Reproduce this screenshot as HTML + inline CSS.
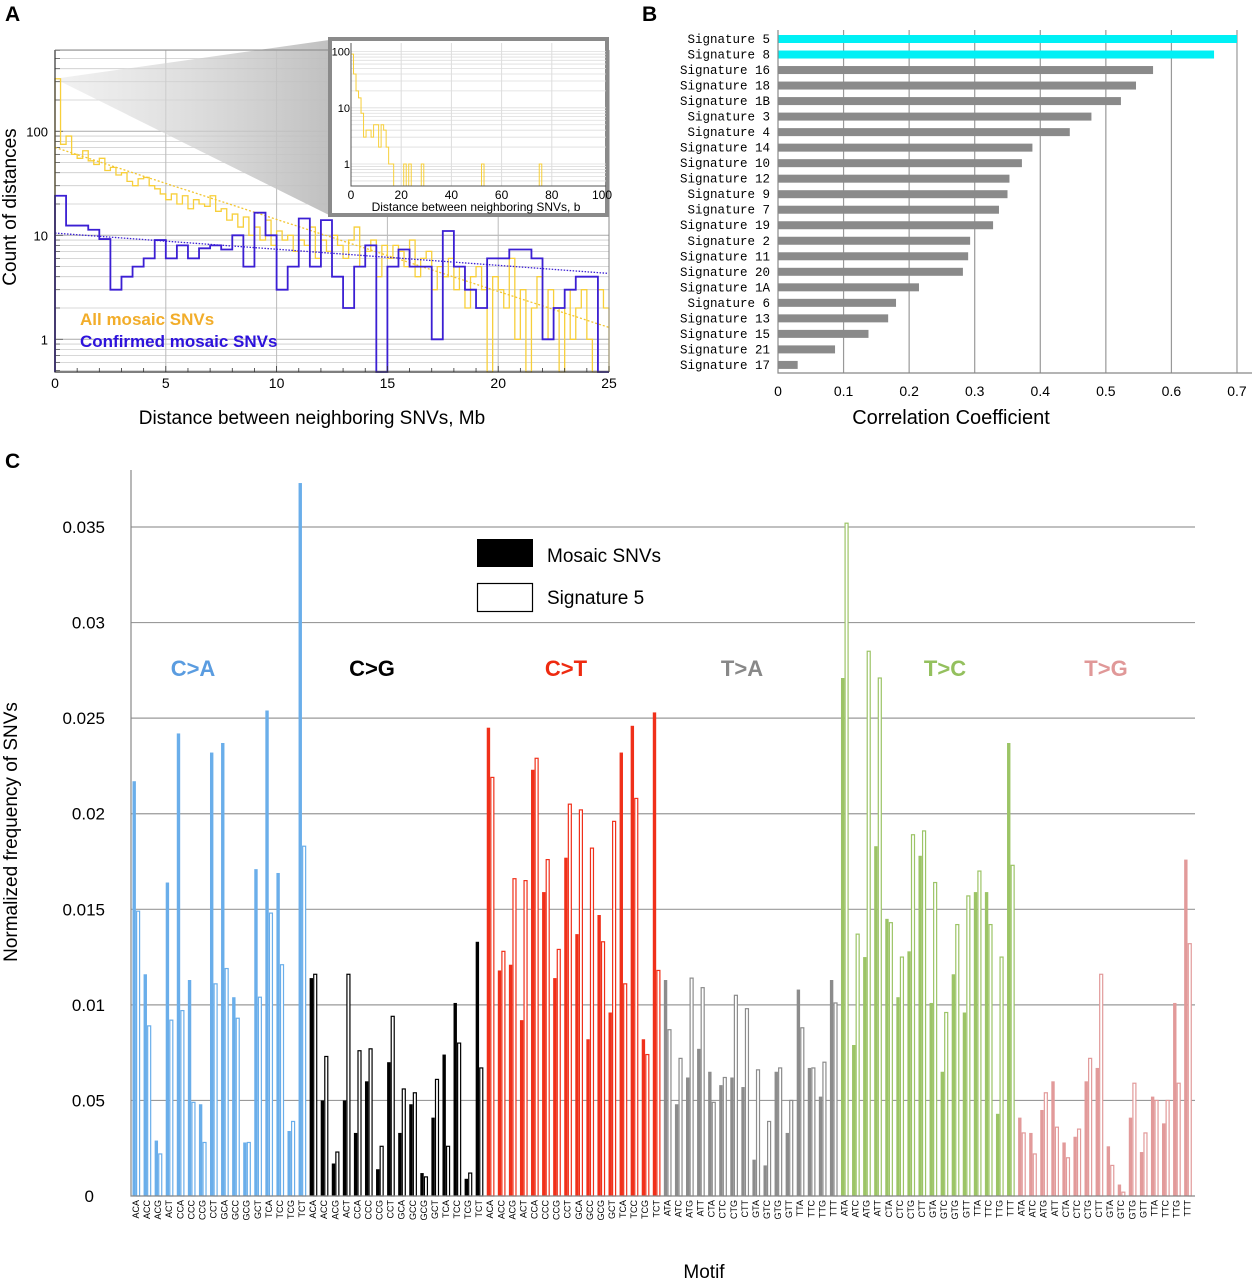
<!DOCTYPE html>
<html><head><meta charset="utf-8"><style>
html,body{margin:0;padding:0;background:#fff;}
svg{display:block;font-family:"Liberation Sans",sans-serif;}
</style></head><body>
<svg id="fig" width="1252" height="1280" viewBox="0 0 1252 1280" xmlns="http://www.w3.org/2000/svg">
<defs>
<linearGradient id="zoomGrad" x1="0" y1="0" x2="1" y2="0">
<stop offset="0" stop-color="#e4e4e4" stop-opacity="0.5"/>
<stop offset="1" stop-color="#bdbdbd" stop-opacity="0.95"/>
</linearGradient>
</defs>
<g id="panelA"></g>
<g id="panelB"></g>
<g id="panelC"></g>
</svg>
<script>
// ---------- Panel A data ----------
const yellowCounts = [320,75,90,60,55,65,52,48,55,42, 45,38,40,33,30,35,36,30,28,25,
 22,25,20,24,18,22,20,19,24,17, 18,14,16,12,15,10,12,9,14,8,
 11,9,10,7,9,8,12,6,9,7, 10,8,6,9,12,5,7,9,4,8,
 6,8,7,5,9,4,6,7,3,5, 4,6,3,5,2,4,5,3,0,4,
 3,2,6,1,3,0,2,4,1,3, 2,0,3,1,2,3,1,0,3,2];
const blueCounts = [24,12.4,12.4,11.3,9.2,3,4,5,6,9,6,8,6,7.5,8,7.3,10,5,16.5,10,3,5,14.5,5,14,4,2,5,8,0,5,7.3,5,5,1,11,5,3,2,6,6,7.3,7.3,6,1,2,3,4,4,0];
const yellowFit = [70,1.3];
const blueFit = [10.5,4.3];
const insetCounts = [90,40,20,15,8,3,4,4,3,5,5,2,5,4,2,1,1,0,0,0,0,1,0,1,0,0,0,0,1,0,
 0,0,0,0,0,0,0,0,0,0,0,0,0,0,0,0,0,0,0,0,0,0,1,0,0,0,0,0,0,0,0,0,0,0,0,0,0,0,0,0,0,0,0,0,0,1];
const aXTicks = [0,5,10,15,20,25];
const aYTicks = [1,10,100];
const insetXTicks = [0,20,40,60,80,100];
// ---------- Panel B data ----------
const sigNames = ["Signature  5","Signature  8","Signature 16","Signature 18","Signature 1B","Signature  3","Signature  4","Signature 14","Signature 10","Signature 12","Signature  9","Signature  7","Signature 19","Signature  2","Signature 11","Signature 20","Signature 1A","Signature  6","Signature 13","Signature 15","Signature 21","Signature 17"];
const sigCorr = [0.70,0.665,0.572,0.546,0.523,0.478,0.445,0.388,0.372,0.353,0.350,0.337,0.328,0.293,0.290,0.282,0.215,0.180,0.168,0.138,0.087,0.030];
const bTicks = [0,0.1,0.2,0.3,0.4,0.5,0.6,0.7];
// ---------- Panel C data ----------
const groups = ["C>A","C>G","C>T","T>A","T>C","T>G"];
const motifsC = ["ACA","ACC","ACG","ACT","CCA","CCC","CCG","CCT","GCA","GCC","GCG","GCT","TCA","TCC","TCG","TCT"];
const motifsT = ["ATA","ATC","ATG","ATT","CTA","CTC","CTG","CTT","GTA","GTC","GTG","GTT","TTA","TTC","TTG","TTT"];
const mosaic = [
 .0217,.0116,.0029,.0164,.0242,.0113,.0048,.0232,.0237,.0104,.0028,.0171,.0254,.0169,.0034,.0373,
 .0114,.0050,.0017,.0050,.0033,.0060,.0014,.0070,.0033,.0048,.0012,.0041,.0074,.0101,.0009,.0133,
 .0245,.0118,.0121,.0092,.0223,.0159,.0114,.0177,.0137,.0082,.0147,.0096,.0232,.0246,.0082,.0253,
 .0113,.0048,.0062,.0077,.0065,.0058,.0062,.0057,.0019,.0016,.0065,.0033,.0108,.0067,.0052,.0113,
 .0271,.0079,.0125,.0183,.0145,.0104,.0128,.0178,.0101,.0065,.0116,.0096,.0159,.0159,.0043,.0237,
 .0041,.0033,.0045,.0060,.0028,.0031,.0060,.0067,.0026,.0006,.0041,.0023,.0052,.0038,.0101,.0176];
const signature5 = [
 .0149,.0089,.0022,.0092,.0097,.0049,.0028,.0111,.0119,.0093,.0028,.0104,.0148,.0121,.0039,.0183,
 .0116,.0073,.0023,.0116,.0076,.0077,.0026,.0094,.0056,.0054,.0010,.0061,.0026,.0080,.0012,.0067,
 .0219,.0128,.0166,.0165,.0229,.0176,.0129,.0205,.0202,.0182,.0133,.0196,.0111,.0208,.0074,.0118,
 .0087,.0072,.0114,.0109,.0049,.0062,.0105,.0098,.0066,.0039,.0067,.0050,.0088,.0067,.0070,.0101,
 .0352,.0137,.0285,.0271,.0143,.0125,.0189,.0191,.0164,.0096,.0142,.0157,.0170,.0142,.0125,.0173,
 .0033,.0022,.0054,.0036,.0020,.0035,.0072,.0116,.0016,.0002,.0059,.0033,.0050,.0050,.0059,.0132];
const cTickVals = [0,0.005,0.01,0.015,0.02,0.025,0.03,0.035];
const cTickLabels = ["0","0.05","0.01","0.015","0.02","0.025","0.03","0.035"];

const NS="http://www.w3.org/2000/svg";
function mk(parent, tag, attrs, text){
  const e=document.createElementNS(NS,tag);
  for(const k in attrs) e.setAttribute(k,attrs[k]);
  if(text!==undefined) e.textContent=text;
  parent.appendChild(e); return e;
}
const gA=document.getElementById('panelA'), gB=document.getElementById('panelB'), gC=document.getElementById('panelC');

// ================= PANEL A =================
const aL=55,aR=609,aT=50,aB=372;
const xA=v=>aL+(v/25)*(aR-aL);
const yA=v=>v<=0.48?aB:Math.max(aT,339.3-104*Math.log10(v));
let t=mk(gA,'text',{x:5,y:21,'font-size':21,'font-weight':'bold'},'A');


for(let d of [0.1,1,10,100]){ for(let m=1;m<10;m++){ const v=d*m; if(v<0.48||v>600) continue;
  let l=mk(gA,'line',{x1:aL,x2:aR,y1:yA(v),y2:yA(v),stroke:m===1?'#aaa':'#ccc','stroke-width':m===1?1:0.8});
  
  
  let tk=mk(gA,'line',{x1:aL,x2:aL+(m===1?8:5),y1:yA(v),y2:yA(v),stroke:'#555','stroke-width':0.8});
  
  
}}
for(const v of aXTicks.slice(1,5)){
  let l=mk(gA,'line',{x1:xA(v),x2:xA(v),y1:aT,y2:aB,stroke:'#bbb','stroke-width':1});
  
  
}
let wedge=mk(gA,'polygon',{points:`${aL},${yA(320)} 329,40 329,215`,fill:'url(#zoomGrad)'});


function stepPath(counts,binW,xf,yf,yb){
  let d=`M${xf(0)},${yb}`;
  counts.forEach((c,i)=>{ const y=yf(c); d+=` V${y} H${xf((i+1)*binW)}`; });
  d+=` V${yb}`; return d;
}
let yh=mk(gA,'path',{d:stepPath(yellowCounts,0.25,xA,yA,aB),fill:'none',stroke:'#f7cf3a','stroke-width':1.3});


let yfL=mk(gA,'line',{x1:xA(0),y1:yA(yellowFit[0]),x2:xA(25),y2:yA(yellowFit[1]),stroke:'#f2c530','stroke-width':1.3,'stroke-dasharray':'2,2'});


let bh=mk(gA,'path',{d:stepPath(blueCounts,0.5,xA,yA,aB),fill:'none',stroke:'#3b1fd3','stroke-width':1.8});


let bfL=mk(gA,'line',{x1:xA(0),y1:yA(blueFit[0]),x2:xA(25),y2:yA(blueFit[1]),stroke:'#3b1fd3','stroke-width':1.3,'stroke-dasharray':'1.5,1.5'});


let ab=mk(gA,'path',{d:`M${aL},${aT} V${aB} H${aR}`,fill:'none',stroke:'#333','stroke-width':1.2});


let ar=mk(gA,'line',{x1:aR,x2:aR,y1:aT,y2:aB,stroke:'#888','stroke-width':1});


let at=mk(gA,'line',{x1:aL,x2:329,y1:aT,y2:aT,stroke:'#888','stroke-width':1});


for(let v=0;v<=25;v++){
  let tk=mk(gA,'line',{x1:xA(v),x2:xA(v),y1:aB,y2:aB-(v%5===0?6:4),stroke:'#333','stroke-width':0.8});
  
  
}
for(const v of aXTicks){
  let tl=mk(gA,'text',{x:xA(v),y:388,'font-size':14,'text-anchor':'middle'},String(v));
  
  
}
for(const v of aYTicks){
  let tl=mk(gA,'text',{x:48,y:yA(v)+5,'font-size':13,'text-anchor':'end'},String(v));
  
  
}
t=mk(gA,'text',{x:312,y:424,'font-size':19,'text-anchor':'middle'},'Distance between neighboring SNVs, Mb');


t=mk(gA,'text',{x:0,y:0,'font-size':19,'text-anchor':'middle',transform:'translate(16,207) rotate(-90)'},'Count of distances');


t=mk(gA,'text',{x:80,y:325,'font-size':17,'font-weight':'bold',fill:'#f2ad2a'},'All mosaic SNVs');


t=mk(gA,'text',{x:80,y:347,'font-size':17,'font-weight':'bold',fill:'#2d12dc'},'Confirmed mosaic SNVs');


const iL=351,iR=602,iT=43,iB=186;
const xI=v=>iL+(v/100)*(iR-iL);
const yI=v=>v<=0.48?iB:Math.max(iT,164-56.2*Math.log10(v));
let fr=mk(gA,'rect',{x:330,y:39,width:277,height:176,fill:'#fff',stroke:'#8a8a8a','stroke-width':4});


for(let d of [0.1,1,10,100]){ for(let m=1;m<10;m++){ const v=d*m; if(v<0.48||v>180) continue;
  let l=mk(gA,'line',{x1:iL,x2:iR+4,y1:yI(v),y2:yI(v),stroke:'#ddd','stroke-width':0.8});
  
  
}}
for(const v of insetXTicks.slice(1,5)){
  let l=mk(gA,'line',{x1:xI(v),x2:xI(v),y1:iT,y2:iB,stroke:'#ddd','stroke-width':1});
  
  
}
let ih=mk(gA,'path',{d:stepPath(insetCounts,1,xI,yI,iB),fill:'none',stroke:'#f7cf3a','stroke-width':1});


let ia=mk(gA,'path',{d:`M${iL},${iT} V${iB} H${iR+4}`,fill:'none',stroke:'#555','stroke-width':1});


for(const v of insetXTicks){
  let tl=mk(gA,'text',{x:xI(v),y:199,'font-size':12,'text-anchor':'middle'},String(v));
  
  
}
for(const v of [1,10,100]){
  let tl=mk(gA,'text',{x:iL-1,y:yI(v)+4,'font-size':11,'text-anchor':'end'},String(v));
  
  
}
t=mk(gA,'text',{x:476,y:211,'font-size':12,'text-anchor':'middle'},'Distance between neighboring SNVs, b');



// ================= PANEL B =================
const bL=778,bPer=655.7;
const xB=v=>bL+v*bPer;
const yB=i=>39+i*15.52;
t=mk(gB,'text',{x:642,y:21,'font-size':21,'font-weight':'bold'},'B');


for(const v of bTicks.slice(1)){
  let l=mk(gB,'line',{x1:xB(v),x2:xB(v),y1:30,y2:373,stroke:'#999','stroke-width':1.2});
  
  
}
sigCorr.forEach((v,i)=>{
  let r=mk(gB,'rect',{x:bL,y:yB(i)-4,width:xB(v)-bL,height:8,fill:i<2?'#00f0f5':'#8a8a8a'});
  
  
  let tl=mk(gB,'text',{x:770,y:yB(i)+4,'font-size':12.5,'text-anchor':'end','font-family':'"Liberation Mono",monospace','xml:space':'preserve'},sigNames[i]);
  
  
});
let bax=mk(gB,'path',{d:`M${bL},30 V373 H1252`,fill:'none',stroke:'#888','stroke-width':1.2});


for(const v of bTicks){
  let tl=mk(gB,'text',{x:xB(v),y:396,'font-size':14,'text-anchor':'middle'},String(v));
  
  
}
t=mk(gB,'text',{x:951,y:424,'font-size':20,'text-anchor':'middle'},'Correlation Coefficient');



// ================= PANEL C =================
const cL=131,cR=1195,cB=1196,cPer=19.114/0.001;
const yC=v=>cB-v*cPer;
const xC=i=>132.5+11.07*i;
const colors=['#6aaeea','#000000','#f0301a','#8c8c8c','#9cc466','#e29a9a'];
const labelColors=['#5a9ce0','#000000','#ee2a10','#888888','#94c05e','#e09898'];
const labelX=[193,372,566,742,945,1106];
t=mk(gC,'text',{x:5,y:468,'font-size':21,'font-weight':'bold'},'C');


cTickVals.forEach((v,i)=>{
  if(i>0){ let l=mk(gC,'line',{x1:cL,x2:cR,y1:yC(v),y2:yC(v),stroke:'#9a9a9a','stroke-width':1.2});
    
     }
  let tl=mk(gC,'text',{x:i===0?94:105,y:yC(v)+6,'font-size':17,'text-anchor':'end'},cTickLabels[i]);
  
  
});
mosaic.forEach((v,i)=>{
  const g=Math.floor(i/16), x=xC(i);
  let r=mk(gC,'rect',{x:x,y:yC(v),width:3.4,height:v*cPer,fill:colors[g]});
  
  
  const s=signature5[i];
  let o=mk(gC,'rect',{x:x+4.1,y:yC(s),width:3,height:s*cPer,fill:'#fff',stroke:colors[g],'stroke-width':1.2});
  
  
  const m=(g<3?motifsC:motifsT)[i%16];
  let tl=mk(gC,'text',{x:0,y:0,'font-size':9,'text-anchor':'end',transform:`translate(${x+6.5},1200) rotate(-90)`},m);
  
  
});
groups.forEach((gname,g)=>{
  let tl=mk(gC,'text',{x:labelX[g],y:676,'font-size':22,'font-weight':'bold','text-anchor':'middle',fill:labelColors[g]},gname);
  
  
});
let cax=mk(gC,'path',{d:`M${cL},470 V${cB} H${cR}`,fill:'none',stroke:'#888','stroke-width':1.2});


let lr1=mk(gC,'rect',{x:477,y:539,width:56,height:28,fill:'#000'});


let lt1=mk(gC,'text',{x:547,y:562,'font-size':19},'Mosaic SNVs');


let lr2=mk(gC,'rect',{x:477.5,y:583.5,width:55,height:28,fill:'#fff',stroke:'#000','stroke-width':1.2});


let lt2=mk(gC,'text',{x:547,y:604,'font-size':19},'Signature 5');


t=mk(gC,'text',{x:704,y:1278,'font-size':19,'text-anchor':'middle'},'Motif');


t=mk(gC,'text',{x:0,y:0,'font-size':19,'text-anchor':'middle',transform:'translate(17,832) rotate(-90)'},'Normalized frequency of SNVs');


</script>
</body></html>
